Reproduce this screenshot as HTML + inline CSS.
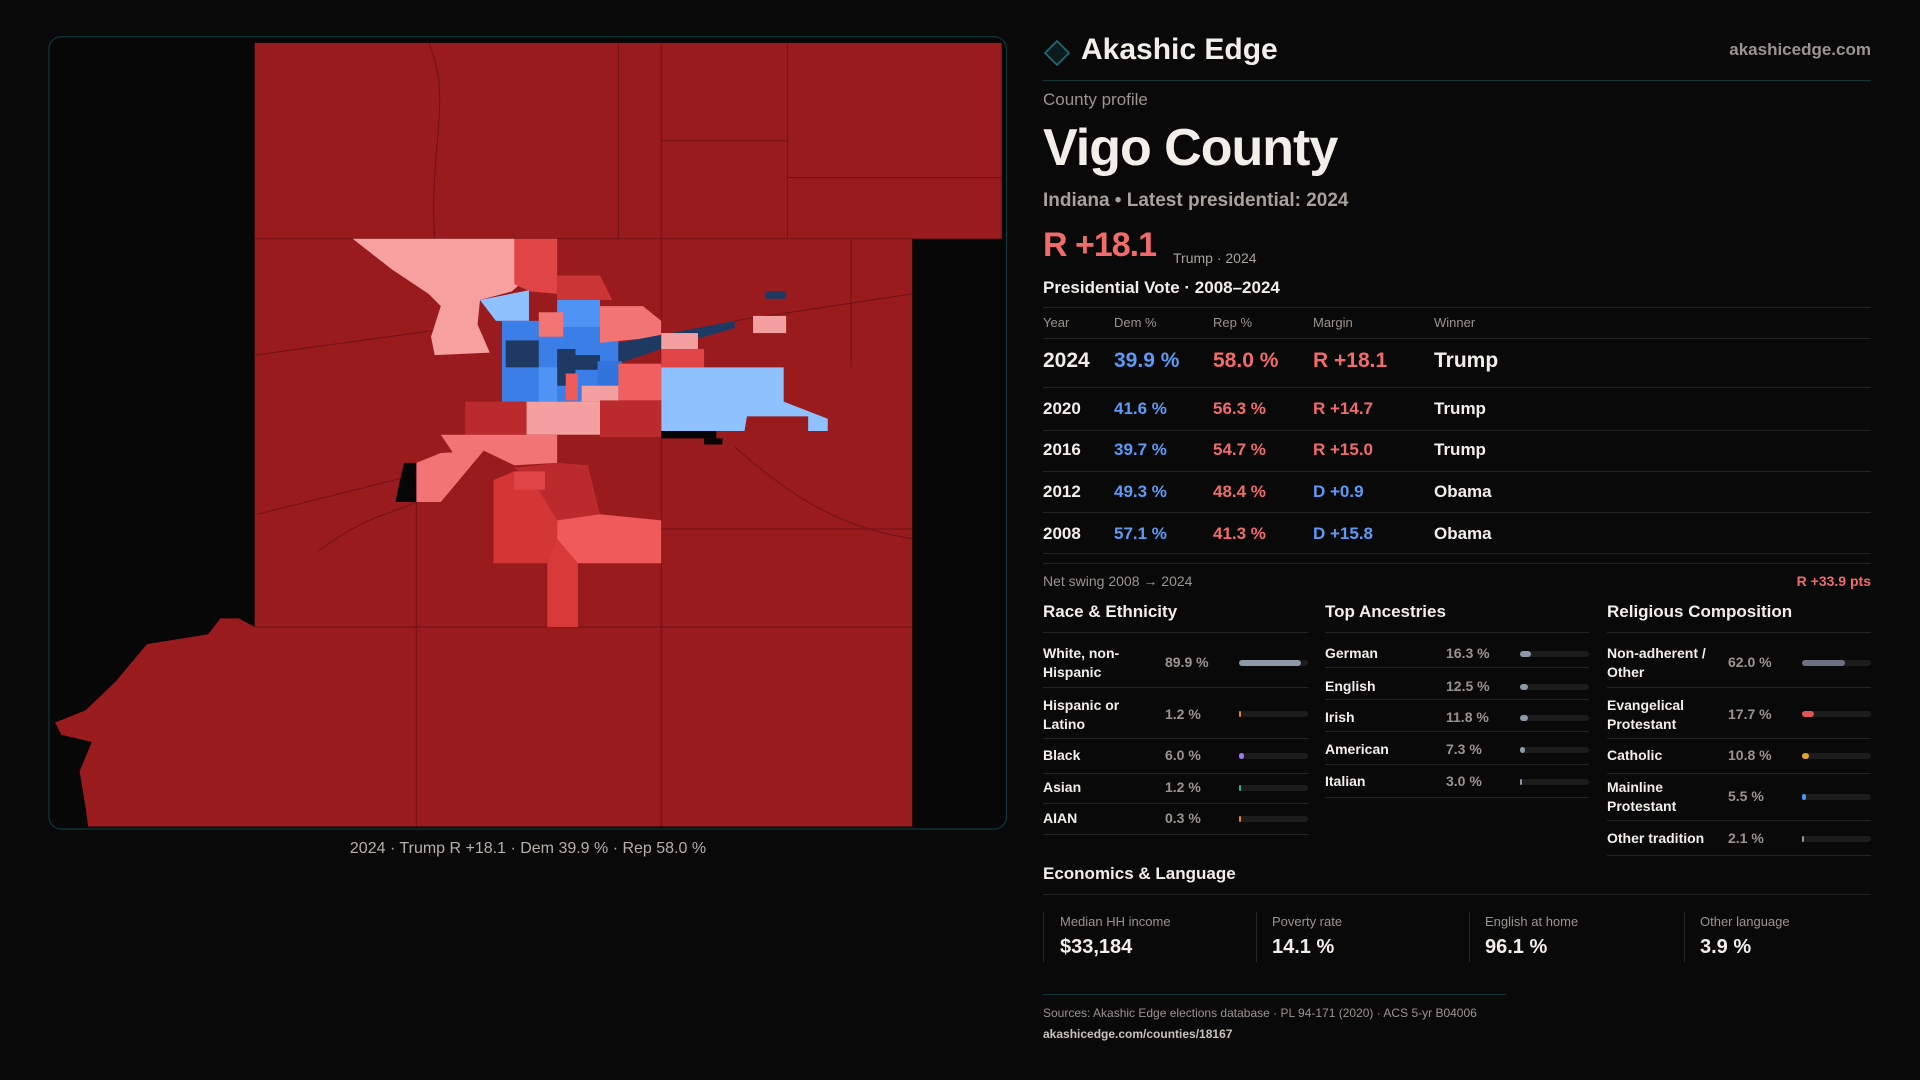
<!DOCTYPE html>
<html><head><meta charset="utf-8">
<style>
*{margin:0;padding:0;box-sizing:border-box}
body{width:1920px;height:1080px;background:#0a0909;font-family:"Liberation Sans",sans-serif;color:#f2efea;position:relative;overflow:hidden}
.a{position:absolute;white-space:nowrap}
.g{color:#9a948f}
.hl{position:absolute;height:1px;background:#242222}
.blue{color:#5b9bf6}.red{color:#f26b6b}
.bar{position:absolute;height:6px;border-radius:3px;background:#1d1c1c}
.bar i{position:absolute;left:0;top:0;height:6px;border-radius:3px}
.card{position:absolute;top:912px;height:50px;border-left:1px solid #2a2828}
</style></head><body>
<svg class="a" style="left:0;top:0" width="1920" height="1080" viewBox="0 0 1568 882">
<rect x="40" y="30" width="782" height="647" rx="10" fill="#070707" stroke="#11363a" stroke-width="1"/>
<path d="M208,35 L818,35 L818,195 L745,195 L745,675 L72,675 L70,660 L65,630 L75,606 L50,600 L45,590 L70,580 L95,556 L120,526 L170,518 L180,505 L195,505 L208,512 Z" fill="#9a1b1e"/>
<g fill="none" stroke="#6e1215" stroke-width="0.8">
<path d="M208,195 L745,195 M540,35 L540,675 M340,410 L340,675 M208,512 L745,512 M505,35 L505,195 M643,35 L643,195 M208,290 L390,265 M600,262 L745,240 M540,432 L745,432 M350,35 C370,80 350,120 355,195 M540,115 L643,115 M643,145 L818,145 M695,195 L695,300 M210,420 L330,390 M600,365 C640,400 680,430 745,440 M260,450 C300,420 320,420 340,410"/>
</g>
<path d="M288,195 L420,195 L438,220 L418,238 L392,245 L390,265 L400,288 L355,290 L352,275 L360,250 L350,240 L320,220 Z" fill="#f7a0a0"/>
<path d="M420,195 L455,195 L455,240 L433,238 L420,232 Z" fill="#e04444"/>
<path d="M392,245 L432,237 L432,262 L405,262 Z" fill="#8fc0ff"/>
<path d="M455,225 L490,225 L500,245 L455,245 Z" fill="#cc3535"/>
<rect x="410" y="262" width="95" height="66" fill="#3b7ee8"/>
<rect x="455" y="245" width="35" height="22" fill="#4f94f5"/>
<rect x="440" y="255" width="20" height="20" fill="#f27474"/>
<rect x="413" y="278" width="27" height="22" fill="#1e3a63"/>
<rect x="455" y="285" width="15" height="30" fill="#1e3a63"/>
<rect x="470" y="290" width="20" height="12" fill="#1e3a63"/>
<rect x="440" y="300" width="15" height="28" fill="#4f94f5"/>
<rect x="462" y="305" width="10" height="22" fill="#f05a5a"/>
<path d="M490,250 L525,250 L540,262 L540,275 L490,280 Z" fill="#f27474"/>
<path d="M505,280 L600,262 L600,268 L540,285 L505,297 Z" fill="#1e3a63"/>
<rect x="488" y="295" width="20" height="20" fill="#3373dc"/>
<rect x="475" y="315" width="30" height="13" fill="#f4a0a0"/>
<rect x="505" y="297" width="35" height="30" fill="#f06060"/>
<rect x="540" y="285" width="35" height="15" fill="#e04444"/>
<rect x="540" y="272" width="30" height="13" fill="#f4a0a0"/>
<path d="M540,300 L640,300 L640,328 L676,342 L676,352 L660,352 L660,340 L610,340 L608,352 L540,352 Z" fill="#8fc0ff"/>
<rect x="540" y="352" width="45" height="6" fill="#050505"/>
<rect x="575" y="358" width="15" height="5" fill="#050505"/>
<rect x="615" y="258" width="27" height="14" fill="#f4a0a0"/>
<rect x="625" y="238" width="17" height="6" fill="#1e3a63"/>
<rect x="380" y="328" width="50" height="27" fill="#bb2a2d"/>
<rect x="430" y="328" width="60" height="27" fill="#f4a0a0"/>
<rect x="490" y="327" width="50" height="30" fill="#bb2a2d"/>
<path d="M360,355 L455,355 L455,378 L420,380 L395,368 L370,370 Z" fill="#f27474"/>
<path d="M360,370 L395,368 L360,410 L340,410 L340,378 Z" fill="#f27474"/>
<path d="M330,378 L340,378 L340,410 L323,410 L326,395 Z" fill="#060606"/>
<path d="M420,382 L455,378 L480,380 L490,420 L455,425 L440,400 Z" fill="#bb2a2d"/>
<path d="M403,392 L420,385 L440,400 L455,425 L455,460 L403,460 Z" fill="#d43535"/>
<rect x="420" y="385" width="25" height="15" fill="#e04444"/>
<path d="M455,425 L490,420 L540,425 L540,460 L455,460 Z" fill="#f05a5a"/>
<path d="M455,440 L472,460 L472,512 L447,512 L447,460 Z" fill="#d83a3a"/>
</svg>
<div class="a" style="left:0;width:1056px;top:840px;text-align:center;font-size:16px;color:#b6b0aa">2024 · Trump R +18.1 · Dem 39.9 % · Rep 58.0 %</div>

<svg class="a" style="left:1044px;top:40px" width="26" height="26"><path d="M13,1 L25,13 L13,25 L1,13 Z" fill="#0c1a1c" stroke="#1a6f78" stroke-width="1.6"/></svg>
<div class="a" style="left:1081px;top:33px;font-size:30px;font-weight:bold">Akashic Edge</div>
<div class="a g" style="right:49px;top:40px;font-size:17px;font-weight:bold">akashicedge.com</div>
<div class="hl" style="left:1043px;width:828px;top:80px;background:#123538"></div>
<div class="a g" style="left:1043px;top:90px;font-size:17px">County profile</div>
<div class="a" style="left:1043px;top:118px;font-size:52px;font-weight:bold;letter-spacing:-1px">Vigo County</div>
<div class="a" style="left:1043px;top:190px;font-size:19px;font-weight:bold;color:#a8a29c">Indiana • Latest presidential: 2024</div>
<div class="a red" style="left:1043px;top:226px;font-size:34px;font-weight:bold;letter-spacing:-1px">R +18.1</div>
<div class="a" style="left:1173px;top:250px;font-size:14px;color:#a8a29c">Trump · 2024</div>
<div class="a" style="left:1043px;top:278px;font-size:17px;font-weight:bold">Presidential Vote · 2008–2024</div>
<div class="hl" style="left:1043px;width:828px;top:307px"></div>
<div class="a g" style="left:1043px;top:315px;font-size:13px">Year</div>
<div class="a g" style="left:1114px;top:315px;font-size:13px">Dem %</div>
<div class="a g" style="left:1213px;top:315px;font-size:13px">Rep %</div>
<div class="a g" style="left:1313px;top:315px;font-size:13px">Margin</div>
<div class="a g" style="left:1434px;top:315px;font-size:13px">Winner</div>
<div class="hl" style="left:1043px;width:828px;top:338px"></div>
<div class="a" style="left:1043px;top:349px;font-size:21px;font-weight:bold">2024</div>
<div class="a blue" style="left:1114px;top:349px;font-size:21px;font-weight:bold">39.9 %</div>
<div class="a red" style="left:1213px;top:349px;font-size:21px;font-weight:bold">58.0 %</div>
<div class="a red" style="left:1313px;top:349px;font-size:21px;font-weight:bold">R +18.1</div>
<div class="a" style="left:1434px;top:349px;font-size:21px;font-weight:bold">Trump</div>
<div class="hl" style="left:1043px;width:828px;top:387px"></div>
<div class="a" style="left:1043px;top:399px;font-size:17px;font-weight:bold">2020</div><div class="a blue" style="left:1114px;top:399px;font-size:17px;font-weight:bold">41.6 %</div><div class="a red" style="left:1213px;top:399px;font-size:17px;font-weight:bold">56.3 %</div><div class="a red" style="left:1313px;top:399px;font-size:17px;font-weight:bold">R +14.7</div><div class="a" style="left:1434px;top:399px;font-size:17px;font-weight:bold">Trump</div>
<div class="hl" style="left:1043px;width:828px;top:430px"></div>
<div class="a" style="left:1043px;top:440px;font-size:17px;font-weight:bold">2016</div><div class="a blue" style="left:1114px;top:440px;font-size:17px;font-weight:bold">39.7 %</div><div class="a red" style="left:1213px;top:440px;font-size:17px;font-weight:bold">54.7 %</div><div class="a red" style="left:1313px;top:440px;font-size:17px;font-weight:bold">R +15.0</div><div class="a" style="left:1434px;top:440px;font-size:17px;font-weight:bold">Trump</div>
<div class="hl" style="left:1043px;width:828px;top:471px"></div>
<div class="a" style="left:1043px;top:482px;font-size:17px;font-weight:bold">2012</div><div class="a blue" style="left:1114px;top:482px;font-size:17px;font-weight:bold">49.3 %</div><div class="a red" style="left:1213px;top:482px;font-size:17px;font-weight:bold">48.4 %</div><div class="a blue" style="left:1313px;top:482px;font-size:17px;font-weight:bold">D +0.9</div><div class="a" style="left:1434px;top:482px;font-size:17px;font-weight:bold">Obama</div>
<div class="hl" style="left:1043px;width:828px;top:512px"></div>
<div class="a" style="left:1043px;top:524px;font-size:17px;font-weight:bold">2008</div><div class="a blue" style="left:1114px;top:524px;font-size:17px;font-weight:bold">57.1 %</div><div class="a red" style="left:1213px;top:524px;font-size:17px;font-weight:bold">41.3 %</div><div class="a blue" style="left:1313px;top:524px;font-size:17px;font-weight:bold">D +15.8</div><div class="a" style="left:1434px;top:524px;font-size:17px;font-weight:bold">Obama</div>
<div class="hl" style="left:1043px;width:828px;top:553px"></div>
<div class="hl" style="left:1043px;width:828px;top:563px"></div>
<div class="a g" style="left:1043px;top:573px;font-size:14px">Net swing 2008 → 2024</div>
<div class="a red" style="right:49px;top:573px;font-size:14px;font-weight:bold">R +33.9 pts</div>

<div class="a" style="left:1043px;top:602px;font-size:17px;font-weight:bold">Race &amp; Ethnicity</div>
<div class="a" style="left:1325px;top:602px;font-size:17px;font-weight:bold">Top Ancestries</div>
<div class="a" style="left:1607px;top:602px;font-size:17px;font-weight:bold">Religious Composition</div>
<div class="hl" style="left:1043px;width:265px;top:632px"></div>
<div class="hl" style="left:1325px;width:264px;top:632px"></div>
<div class="hl" style="left:1607px;width:264px;top:632px"></div>

<div style="font-size:14px;font-weight:bold">
<div class="a" style="left:1043px;top:644px;line-height:19px">White, non-<br>Hispanic</div><div class="a g" style="left:1165px;top:654px">89.9 %</div><div class="bar" style="left:1239px;width:69px;top:660px"><i style="width:62px;background:#8c97a8"></i></div><div class="hl" style="left:1043px;width:265px;top:687px"></div>
<div class="a" style="left:1043px;top:696px;line-height:19px">Hispanic or<br>Latino</div><div class="a g" style="left:1165px;top:706px">1.2 %</div><div class="bar" style="left:1239px;width:69px;top:711px"><i style="width:2px;background:#e0862a"></i></div><div class="hl" style="left:1043px;width:265px;top:738px"></div>
<div class="a" style="left:1043px;top:747px">Black</div><div class="a g" style="left:1165px;top:747px">6.0 %</div><div class="bar" style="left:1239px;width:69px;top:753px"><i style="width:5px;background:#9b7bf0"></i></div><div class="hl" style="left:1043px;width:265px;top:773px"></div>
<div class="a" style="left:1043px;top:779px">Asian</div><div class="a g" style="left:1165px;top:779px">1.2 %</div><div class="bar" style="left:1239px;width:69px;top:785px"><i style="width:2px;background:#2bb58a"></i></div><div class="hl" style="left:1043px;width:265px;top:803px"></div>
<div class="a" style="left:1043px;top:810px">AIAN</div><div class="a g" style="left:1165px;top:810px">0.3 %</div><div class="bar" style="left:1239px;width:69px;top:816px"><i style="width:2px;background:#e0862a"></i></div><div class="hl" style="left:1043px;width:265px;top:834px"></div>

<div class="a" style="left:1325px;top:645px">German</div><div class="a g" style="left:1446px;top:645px">16.3 %</div><div class="bar" style="left:1520px;width:69px;top:651px"><i style="width:11px;background:#8c97a8"></i></div><div class="hl" style="left:1325px;width:264px;top:667px"></div>
<div class="a" style="left:1325px;top:678px">English</div><div class="a g" style="left:1446px;top:678px">12.5 %</div><div class="bar" style="left:1520px;width:69px;top:684px"><i style="width:8px;background:#8c97a8"></i></div><div class="hl" style="left:1325px;width:264px;top:699px"></div>
<div class="a" style="left:1325px;top:709px">Irish</div><div class="a g" style="left:1446px;top:709px">11.8 %</div><div class="bar" style="left:1520px;width:69px;top:715px"><i style="width:8px;background:#8c97a8"></i></div><div class="hl" style="left:1325px;width:264px;top:731px"></div>
<div class="a" style="left:1325px;top:741px">American</div><div class="a g" style="left:1446px;top:741px">7.3 %</div><div class="bar" style="left:1520px;width:69px;top:747px"><i style="width:5px;background:#8c97a8"></i></div><div class="hl" style="left:1325px;width:264px;top:764px"></div>
<div class="a" style="left:1325px;top:773px">Italian</div><div class="a g" style="left:1446px;top:773px">3.0 %</div><div class="bar" style="left:1520px;width:69px;top:779px"><i style="width:2px;background:#8c97a8"></i></div><div class="hl" style="left:1325px;width:264px;top:797px"></div>

<div class="a" style="left:1607px;top:644px;line-height:19px">Non-adherent /<br>Other</div><div class="a g" style="left:1728px;top:654px">62.0 %</div><div class="bar" style="left:1802px;width:69px;top:660px"><i style="width:43px;background:#6b7180"></i></div><div class="hl" style="left:1607px;width:264px;top:687px"></div>
<div class="a" style="left:1607px;top:696px;line-height:19px">Evangelical<br>Protestant</div><div class="a g" style="left:1728px;top:706px">17.7 %</div><div class="bar" style="left:1802px;width:69px;top:711px"><i style="width:12px;background:#e05555"></i></div><div class="hl" style="left:1607px;width:264px;top:738px"></div>
<div class="a" style="left:1607px;top:747px">Catholic</div><div class="a g" style="left:1728px;top:747px">10.8 %</div><div class="bar" style="left:1802px;width:69px;top:753px"><i style="width:7px;background:#e0a823"></i></div><div class="hl" style="left:1607px;width:264px;top:773px"></div>
<div class="a" style="left:1607px;top:778px;line-height:19px">Mainline<br>Protestant</div><div class="a g" style="left:1728px;top:788px">5.5 %</div><div class="bar" style="left:1802px;width:69px;top:794px"><i style="width:4px;background:#4f94f5"></i></div><div class="hl" style="left:1607px;width:264px;top:820px"></div>
<div class="a" style="left:1607px;top:830px">Other tradition</div><div class="a g" style="left:1728px;top:830px">2.1 %</div><div class="bar" style="left:1802px;width:69px;top:836px"><i style="width:2px;background:#8c97a8"></i></div><div class="hl" style="left:1607px;width:264px;top:855px"></div>
</div>

<div class="a" style="left:1043px;top:864px;font-size:17px;font-weight:bold">Economics &amp; Language</div>
<div class="hl" style="left:1043px;width:828px;top:894px"></div>
<div class="card" style="left:1043px"><div class="a g" style="left:16px;top:2px;font-size:13px">Median HH income</div><div class="a" style="left:16px;top:24px;font-size:20px;font-weight:bold">$33,184</div></div>
<div class="card" style="left:1256px"><div class="a g" style="left:15px;top:2px;font-size:13px">Poverty rate</div><div class="a" style="left:15px;top:24px;font-size:20px;font-weight:bold">14.1 %</div></div>
<div class="card" style="left:1469px"><div class="a g" style="left:15px;top:2px;font-size:13px">English at home</div><div class="a" style="left:15px;top:24px;font-size:20px;font-weight:bold">96.1 %</div></div>
<div class="card" style="left:1684px"><div class="a g" style="left:15px;top:2px;font-size:13px">Other language</div><div class="a" style="left:15px;top:24px;font-size:20px;font-weight:bold">3.9 %</div></div>
<div class="hl" style="left:1043px;width:463px;top:994px;background:#123538"></div>
<div class="a g" style="left:1043px;top:1006px;font-size:12px">Sources: Akashic Edge elections database · PL 94-171 (2020) · ACS 5-yr B04006</div>
<div class="a" style="left:1043px;top:1027px;font-size:12px;color:#c8c2bc;font-weight:bold">akashicedge.com/counties/18167</div>
</body></html>
